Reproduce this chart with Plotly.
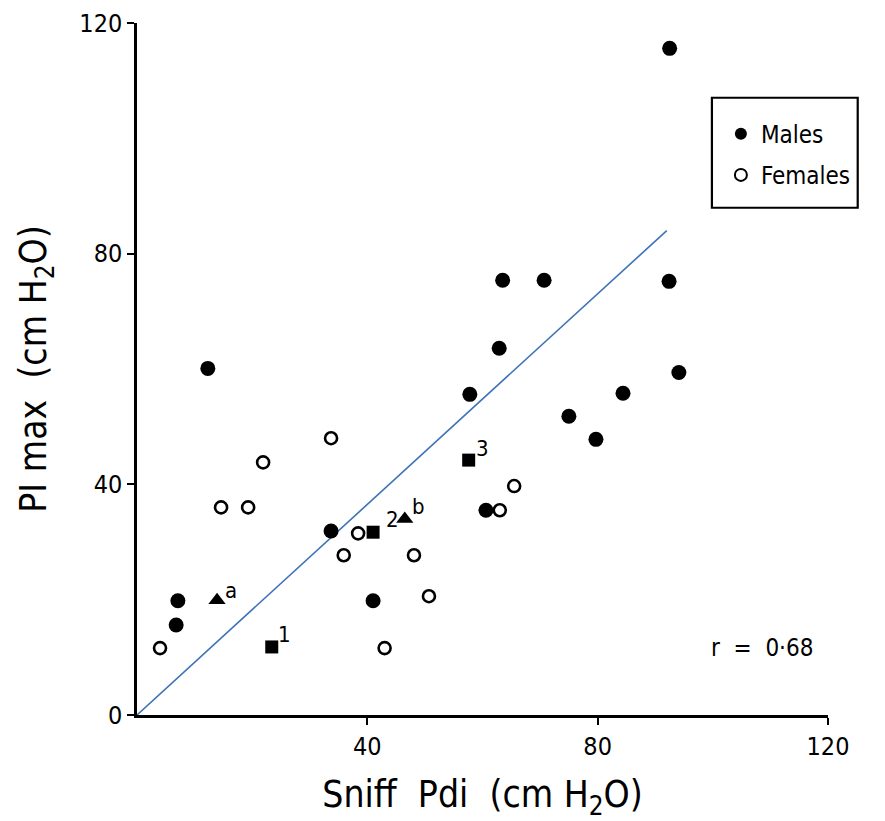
import plotly.graph_objects as go

# Data (cm H2O)
male_x = [92.5, 63.5, 70.7, 92.4, 62.9, 12.3, 57.8, 94.1, 84.4, 75.0, 79.7, 60.6, 33.7, 41.0, 7.1, 6.8]
male_y = [115.6, 75.4, 75.4, 75.2, 63.6, 60.1, 55.6, 59.4, 55.8, 51.8, 47.8, 35.5, 31.9, 19.8, 19.8, 15.6]

female_x = [4.0, 43.0, 14.6, 19.3, 21.9, 33.7, 38.4, 35.9, 48.1, 50.7, 63.0, 65.5]
female_y = [11.6, 11.6, 36.0, 36.0, 43.8, 48.0, 31.5, 27.7, 27.7, 20.6, 35.5, 39.7]

square_x = [23.4, 41.0, 57.6]
square_y = [11.8, 31.7, 44.2]
square_labels = ["1", "2", "3"]

triangle_x = [13.9, 46.5]
triangle_y = [19.9, 34.0]
triangle_labels = ["a", "b"]

fit_x = [0, 92]
fit_y = [0, 84]

x_ticks = [40, 80, 120]
y_ticks = [0, 40, 80, 120]

FONT = "DejaVu Sans Condensed, DejaVu Sans, sans-serif"

fig = go.Figure()

fig.add_trace(go.Scatter(x=fit_x, y=fit_y, mode="lines",
                         line=dict(color="#3d72b8", width=1.6),
                         showlegend=False, hoverinfo="skip"))

fig.add_trace(go.Scatter(x=male_x, y=male_y, mode="markers", name="Males", legendgroup="m",
                         marker=dict(symbol="circle", size=15, color="black")))
fig.add_trace(go.Scatter(x=female_x, y=female_y, mode="markers", name="Females", legendgroup="f",
                         marker=dict(symbol="circle-open", size=12, color="black",
                                     line=dict(width=2.6, color="black"))))
fig.add_trace(go.Scatter(x=square_x, y=square_y, mode="markers", showlegend=False,
                         marker=dict(symbol="square", size=13, color="black")))
fig.add_trace(go.Scatter(x=triangle_x, y=triangle_y, mode="markers", showlegend=False,
                         marker=dict(symbol="triangle-up", size=15, color="black")))

label_shift = {"1": (13, 12), "2": (19, 13), "3": (14, 12), "a": (14, 10), "b": (14, 12)}
for xs, ys, labs in [(square_x, square_y, square_labels), (triangle_x, triangle_y, triangle_labels)]:
    for xv, yv, lab in zip(xs, ys, labs):
        dx, dy = label_shift[lab]
        fig.add_annotation(x=xv, y=yv, text=lab, showarrow=False, xref="x", yref="y",
                           xshift=dx, yshift=dy, font=dict(size=22, color="black", family=FONT))

fig.add_annotation(x=0.981, y=0.097, xref="paper", yref="paper", text="r  =  0·68",
                   showarrow=False, xanchor="right", yanchor="middle",
                   font=dict(size=24, color="black", family=FONT))

# legend frame
fig.add_shape(type="rect", xref="paper", yref="paper", x0=0.832, x1=1.043, y0=0.733, y1=0.892,
              line=dict(color="black", width=2.2), fillcolor="rgba(0,0,0,0)")

fig.update_layout(
    width=885, height=821,
    margin=dict(l=137, r=57, t=23, b=106, autoexpand=False),
    plot_bgcolor="white", paper_bgcolor="white",
    font=dict(family=FONT, color="black"),
    legend=dict(x=0.845, y=0.872, xanchor="left", yanchor="top",
                borderwidth=0, bgcolor="rgba(0,0,0,0)",
                font=dict(size=24, color="black", family=FONT),
                itemsizing="constant", tracegroupgap=7, itemwidth=30),
    xaxis=dict(range=[0, 120], tickvals=x_ticks, ticks="outside", ticklen=7, tickwidth=2,
               tickcolor="black", showline=True, linecolor="black", linewidth=2.5,
               showgrid=False, zeroline=False, tickfont=dict(size=25, family=FONT),
               automargin=False,
               title=dict(text="Sniff  Pdi  (cm H<sub>2</sub>O)", font=dict(size=37, family=FONT),
                          standoff=22)),
    yaxis=dict(range=[0, 120], tickvals=y_ticks, ticks="outside", ticklen=7, tickwidth=2,
               tickcolor="black", showline=True, linecolor="black", linewidth=2.5,
               showgrid=False, zeroline=False, tickfont=dict(size=25, family=FONT),
               automargin=False,
               title=dict(text="PI max  (cm H<sub>2</sub>O)", font=dict(size=37, family=FONT),
                          standoff=22)),
)

fig.write_html("out.html")
